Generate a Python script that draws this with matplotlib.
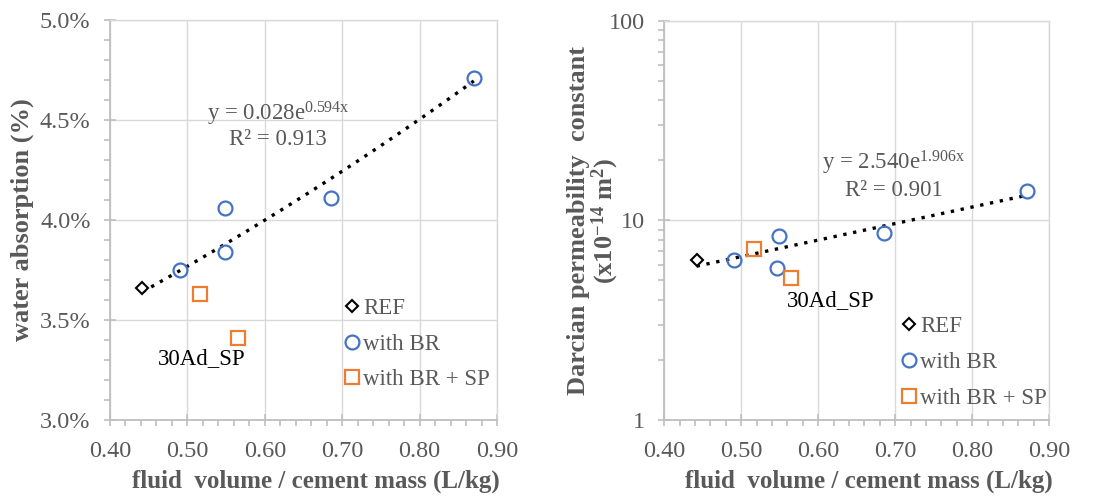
import numpy as np
import matplotlib
matplotlib.use("Agg")
import matplotlib.pyplot as plt
from matplotlib.ticker import FixedLocator, MultipleLocator, FuncFormatter, LogLocator, NullFormatter

plt.rcParams['font.family'] = ['Liberation Serif', 'DejaVu Serif']
plt.rcParams['mathtext.fontset'] = 'custom'
plt.rcParams['mathtext.rm'] = 'Liberation Serif'
plt.rcParams['mathtext.it'] = 'Liberation Serif'
plt.rcParams['mathtext.bf'] = 'Liberation Serif:bold'

GRAY = '#595959'
SPINE = '#bfbfbf'
GRID = '#d9d9d9'
BLUE = '#4472c4'
ORANGE = '#ed7d31'

# ---- water absorption (%) ----
wa_ref_x = [0.442]
wa_ref_y = [3.66]
wa_br_x = [0.490, 0.548, 0.549, 0.685, 0.870]
wa_br_y = [3.75, 4.06, 3.84, 4.11, 4.71]
wa_sp_x = [0.516, 0.565]
wa_sp_y = [3.63, 3.41]
wa_fit = (0.028, 0.594)          # y = a * exp(b x), fraction
wa_fit_r2 = 0.913

# ---- Darcian permeability constant (x10^-14 m^2) ----
dp_ref_x = [0.442]
dp_ref_y = [6.3]
dp_br_x = [0.491, 0.549, 0.547, 0.685, 0.871]
dp_br_y = [6.35, 8.4, 5.75, 8.65, 14.1]
dp_sp_x = [0.516, 0.565]
dp_sp_y = [7.2, 5.15]
dp_fit = (2.540, 1.906)
dp_fit_r2 = 0.901

fit_x_range = (0.442, 0.870)

fig = plt.figure(figsize=(11.02, 4.97), dpi=100)
ax1 = fig.add_axes([0.0998, 0.155, 0.3512, 0.805])
ax2 = fig.add_axes([0.6028, 0.155, 0.3492, 0.803])


def style_axes(ax):
    for side in ['left', 'bottom']:
        ax.spines[side].set_color(SPINE)
        ax.spines[side].set_linewidth(1.3)
    for side in ['top', 'right']:
        ax.spines[side].set_color(GRID)
        ax.spines[side].set_linewidth(1.0)
    ax.grid(True, which='major', color=GRID, linewidth=1.0)
    ax.set_axisbelow(True)
    ax.tick_params(which='major', direction='inout', length=8, width=1.2,
                   color=SPINE, labelcolor=GRAY, labelsize=17.5)
    ax.tick_params(axis='x', which='major', pad=11)
    ax.tick_params(axis='y', which='major', pad=10)
    ax.tick_params(which='minor', direction='out', length=4, width=1.2,
                   color=SPINE)
    ax.set_xlim(0.40, 0.90)
    ax.xaxis.set_major_locator(MultipleLocator(0.10))
    ax.xaxis.set_minor_locator(MultipleLocator(0.02))
    ax.xaxis.set_major_formatter(FuncFormatter(lambda v, p: f"{v:.2f}"))
    ax.set_xlabel('fluid  volume / cement mass (L/kg)', fontsize=18,
                  fontweight='bold', color=GRAY)
    ax.xaxis.set_label_coords(0.531, -0.125)


def draw_series(ax, ref, br, sp, label_pos):
    ax.plot(ref[0], ref[1], linestyle='none', marker='D', markersize=6,
            markerfacecolor='white', markeredgecolor='black', markeredgewidth=1.5,
            label='REF', zorder=4)
    ax.plot(br[0], br[1], linestyle='none', marker='o', markersize=10,
            markerfacecolor='none', markeredgecolor=BLUE, markeredgewidth=1.6,
            label='with BR', zorder=4)
    ax.plot(sp[0], sp[1], linestyle='none', marker='s', markersize=10,
            markerfacecolor='none', markeredgecolor=ORANGE, markeredgewidth=1.6,
            label='with BR + SP', zorder=4)
    leg = ax.legend(loc='upper left', bbox_to_anchor=label_pos, frameon=False,
                    fontsize=16.5, handletextpad=0.0, handlelength=1.0,
                    labelspacing=0.64, borderaxespad=0, borderpad=0)
    for t in leg.get_texts():
        t.set_color(GRAY)


def eq_label(a, b):
    return f'y = {a:.3f}e$^{{\\mathrm{{{b:.3f}x}}}}$'


# Left: water absorption
style_axes(ax1)
xs = np.linspace(*fit_x_range, 100)
a, b = wa_fit
ax1.plot(xs, a * np.exp(b * xs) * 100, linestyle=(0, (1, 2.0)), color='black',
         linewidth=2.4, zorder=3)
draw_series(ax1, (wa_ref_x, wa_ref_y), (wa_br_x, wa_br_y), (wa_sp_x, wa_sp_y),
            (0.595, 0.305))
ax1.set_ylim(3.0, 5.0)
ax1.yaxis.set_major_locator(MultipleLocator(0.5))
ax1.yaxis.set_minor_locator(MultipleLocator(0.1))
ax1.yaxis.set_major_formatter(FuncFormatter(lambda v, p: f"{v:.1f}%"))
ax1.set_ylabel('water absorption (%)', fontsize=19, fontweight='bold',
               color=GRAY)
ax1.yaxis.set_label_coords(-0.196, 0.5)
ax1.text(0.617, 4.53, eq_label(a, b), fontsize=16.5, color=GRAY,
         ha='center', va='center')
ax1.text(0.617, 4.40, f'R² = {wa_fit_r2:.3f}', fontsize=16.5, color=GRAY,
         ha='center', va='center')
ax1.text(0.519, 3.305, '30Ad_SP', fontsize=16.5, color='black', ha='center',
         va='center')

# Right: Darcian permeability constant
style_axes(ax2)
a, b = dp_fit
ax2.plot(xs, a * np.exp(b * xs), linestyle=(0, (1, 2.0)), color='black',
         linewidth=2.4, zorder=3)
draw_series(ax2, (dp_ref_x, dp_ref_y), (dp_br_x, dp_br_y), (dp_sp_x, dp_sp_y),
            (0.605, 0.26))
ax2.set_yscale('log')
ax2.set_ylim(1, 100)
ax2.yaxis.set_major_locator(FixedLocator([1, 10, 100]))
ax2.yaxis.set_minor_locator(LogLocator(base=10, subs=np.arange(2, 10)))
ax2.yaxis.set_minor_formatter(NullFormatter())
ax2.yaxis.set_major_formatter(FuncFormatter(lambda v, p: f"{v:g}"))
ax2.set_ylabel('Darcian permeability  constant\n(x10$^{\\mathbf{-14}}$ m$^{\\mathbf{2}}$)',
               fontsize=19, fontweight='bold', color=GRAY, linespacing=1.0)
ax2.yaxis.set_label_coords(-0.112, 0.5)
ax2.text(0.6985, 10 ** 1.29, eq_label(a, b), fontsize=16.5,
         color=GRAY, ha='center', va='center')
ax2.text(0.6985, 10 ** 1.15, f'R² = {dp_fit_r2:.3f}', fontsize=16.5, color=GRAY,
         ha='center', va='center')
ax2.text(0.6167, 10 ** 0.60, '30Ad_SP', fontsize=16.5, color='black',
         ha='center', va='center')

fig.savefig('out.png', dpi=100)
